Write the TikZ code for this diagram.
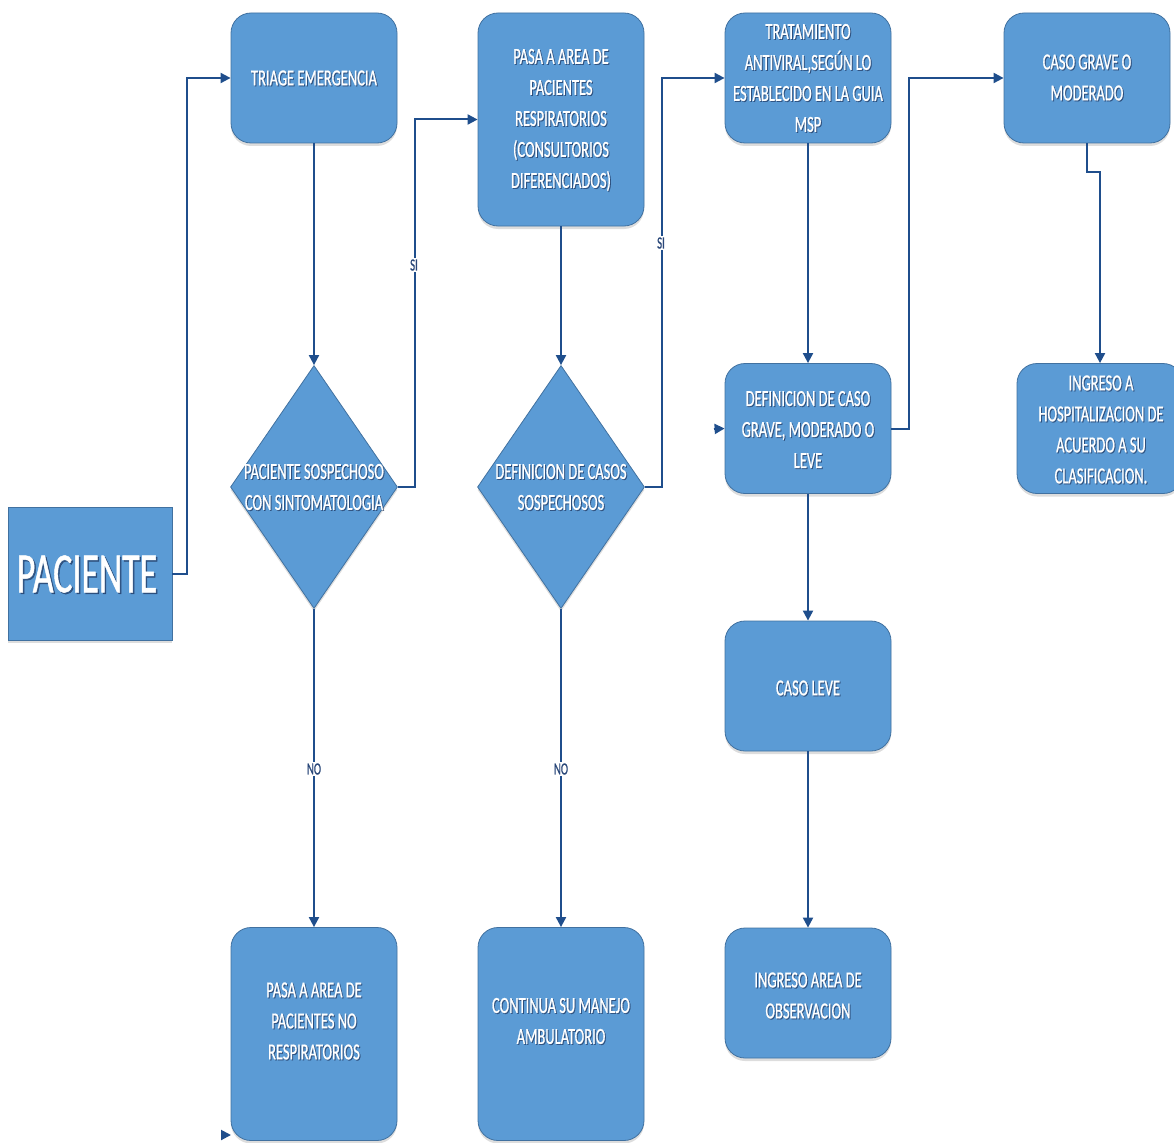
\documentclass[tikz,border=0pt]{standalone}
\usepackage{fontspec}
\usetikzlibrary{shapes.geometric,arrows.meta,shadows}
\newfontfamily\dfont[FakeStretch=0.63,FakeBold=0.8]{Carlito}
\definecolor{boxfill}{RGB}{91,155,213}
\definecolor{boxline}{RGB}{65,113,160}
\definecolor{conncol}{RGB}{31,78,140}
\definecolor{lblcol}{RGB}{40,70,120}
\definecolor{txtshadow}{RGB}{25,45,85}
\tikzset{
  boxshadow/.style={drop shadow={shadow xshift=0pt,shadow yshift=-3pt,opacity=0.22,fill=black!60}},
  rbox/.style={draw=boxline,line width=0.8pt,fill=boxfill,rounded corners=20pt,
    minimum width=166pt,minimum height=130pt,inner sep=0pt,boxshadow},
  tallbox/.style={rbox,minimum height=213pt},
  sqbox/.style={draw=boxline,line width=0.8pt,fill=boxfill,
    minimum width=164pt,minimum height=133pt,inner sep=0pt,boxshadow},
  dia/.style={diamond,draw=boxline,line width=0.8pt,fill=boxfill,
    minimum width=167pt,minimum height=243pt,inner sep=0pt,boxshadow},
  txt/.style={text=white,align=center,inner sep=0pt,
    font=\dfont\fontsize{23}{31}\selectfont},
  txtsh/.style={txt,text=txtshadow,opacity=0.6},
  bigtxt/.style={text=white,inner sep=0pt,font=\dfont\fontsize{57}{60}\selectfont},
  bigtxtsh/.style={bigtxt,text=txtshadow,opacity=0.6},
  conn/.style={draw=conncol,line width=2pt,-{Triangle[length=10pt,width=10pt]}},
  lbl/.style={fill=white,text=lblcol,inner sep=1.5pt,
    font=\dfont\fontsize{17}{20}\selectfont},
}
\newcommand\btext[3]{%
  \node[txtsh] at ([xshift=1pt,yshift=-1pt]#2) {#3};
  \node[txt] (#1) at (#2) {#3};}
\begin{document}
\begin{tikzpicture}[x=1pt,y=-1pt]
\useasboundingbox (0,0) rectangle (1174,1142);
% shapes
\node[sqbox] (pac) at (90,573.5) {};
\node[rbox] (triage) at (314,78) {};
\node[dia] (d1) at (314,487) {};
\node[tallbox] (pasa) at (561,119.5) {};
\node[dia] (d2) at (561,487) {};
\node[rbox] (trat) at (808,78) {};
\node[rbox] (def) at (808,428.5) {};
\node[rbox] (leve) at (808,686) {};
\node[rbox] (obs) at (808,993) {};
\node[rbox] (grave) at (1087,78) {};
\node[rbox] (hosp) at (1100,428.5) {};
\node[tallbox] (pasano) at (314,1034) {};
\node[tallbox] (cont) at (561,1034) {};
% texts
\node[bigtxtsh] at ([xshift=1.5pt,yshift=-1.5pt]87,574) {PACIENTE};
\node[bigtxt] (pacT) at (87,574) {PACIENTE};
\btext{triageT}{314,78}{TRIAGE EMERGENCIA}
\btext{d1T}{314,487}{PACIENTE SOSPECHOSO\\CON SINTOMATOLOGIA}
\btext{pasaT}{561,120}{PASA A AREA DE\\PACIENTES\\RESPIRATORIOS\\(CONSULTORIOS\\DIFERENCIADOS)}
\btext{d2T}{561,487}{DEFINICION DE CASOS\\SOSPECHOSOS}
\btext{tratT}{808,78}{TRATAMIENTO\\ANTIVIRAL,SEGÚN LO\\ESTABLECIDO EN LA GUIA\\MSP}
\btext{defT}{808,429.5}{DEFINICION DE CASO\\GRAVE, MODERADO O\\LEVE}
\btext{leveT}{808,688}{CASO LEVE}
\btext{obsT}{808,995.5}{INGRESO AREA DE\\OBSERVACION}
\btext{graveT}{1087,77.5}{CASO GRAVE O\\MODERADO}
\btext{hospT}{1101,429.5}{INGRESO A\\HOSPITALIZACION DE\\ACUERDO A SU\\CLASIFICACION.}
\btext{pasanoT}{314,1021}{PASA A AREA DE\\PACIENTES NO\\RESPIRATORIOS}
\btext{contT}{561,1021}{CONTINUA SU MANEJO\\AMBULATORIO}
% connectors
\draw[conn] (pac.east) -- ++(15,0) |- (triage.west);
\draw[conn] (triage.south) -- (d1.north);
\draw[conn] (d1.east) -- ++(17,0) |- (pasa.west);
\draw[conn] (d1.south) -- (pasano.north);
\draw[conn] (pasa.south) -- (d2.north);
\draw[conn] (d2.east) -- ++(17,0) |- (trat.west);
\draw[conn] (d2.south) -- (cont.north);
\draw[conn] (trat.south) -- (def.north);
\draw[conn] (def.east) -- ++(18,0) |- (grave.west);
\draw[conn] (grave.south) -- ++(0,29) -| (hosp.north);
\draw[conn] (def.south) -- (leve.north);
\draw[conn] (leve.south) -- (obs.north);
\coordinate (s1) at (714,429);
\draw[conn] (s1) -- (def.west);
\coordinate (s2) at (221,1135);
\draw[conn] (s2) -- (231,1135);
% labels
\node[lbl] (si1) at (414,265) {SI};
\node[lbl] (no1) at (314,769) {NO};
\node[lbl] (si2) at (661,243) {SI};
\node[lbl] (no2) at (561,769) {NO};
\end{tikzpicture}
\end{document}
